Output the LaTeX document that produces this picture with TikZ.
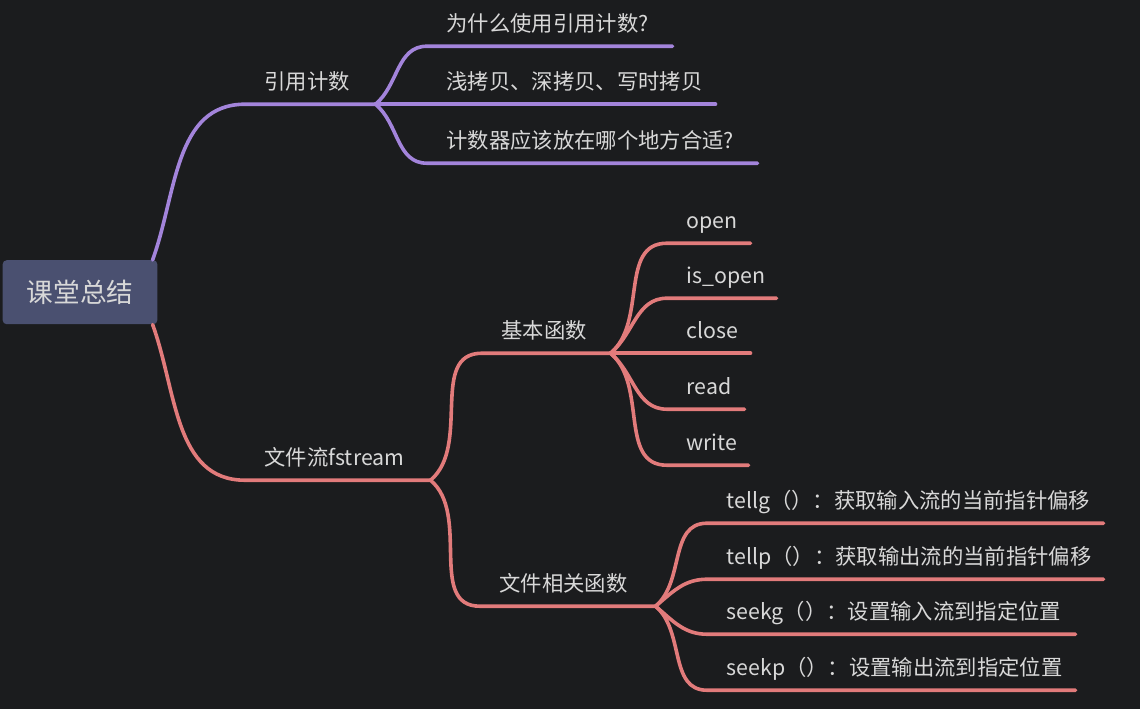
\documentclass[tikz,border=0pt]{standalone}
\usepackage{fontspec}
\setmainfont{Noto Sans CJK SC}
\usepackage{tikz}
\definecolor{bgdark}{RGB}{27,28,30}
\definecolor{rootfill}{RGB}{74,80,112}
\definecolor{txtgray}{RGB}{216,216,216}
\definecolor{purp}{RGB}{163,132,219}
\definecolor{salmon}{RGB}{226,123,123}

\begin{document}
\begin{tikzpicture}[x=0.75pt,y=-0.75pt]
\tikzstyle{root}=[rectangle,rounded corners=3pt,fill=rootfill,text=txtgray,minimum width=116pt,minimum height=48pt,font=\fontsize{20}{24}\selectfont]
\tikzstyle{topic}=[anchor=south west,inner xsep=0pt,inner ysep=10.5pt,text depth=0pt,align=left,text=txtgray,font=\fontsize{16}{19}\selectfont,execute at begin node=\hspace*{14.5pt}]
\tikzstyle{pline}=[draw=purp,line width=2.7pt,line cap=round]
\tikzstyle{rline}=[draw=salmon,line width=2.7pt,line cap=round]
\fill[bgdark] (0,0) rectangle (1140,709);
\node[root] (sum) at (80,292) {课堂总结};
\node[topic,text width=97.5pt] (cnt) at (245,104) {引用计数};
\node[topic,text width=138.75pt] (fs) at (245,480) {文件流fstream};
\node[topic,text width=183.75pt] (why) at (427,46) {为什么使用引用计数?};
\node[topic,text width=216pt] (copy) at (427,104) {浅拷贝、深拷贝、写时拷贝};
\node[topic,text width=247.5pt] (where) at (427,163) {计数器应该放在哪个地方合适?};
\node[topic,text width=96pt] (basic) at (482,353) {基本函数};
\node[topic,text width=131.25pt] (rel) at (480,606) {文件相关函数};
\node[topic,text width=62.25pt] (open) at (667,243) {open};
\node[topic,text width=81.75pt] (isopen) at (667,298) {is\_open};
\node[topic,text width=62.25pt] (close) at (667,353) {close};
\node[topic,text width=57.75pt] (read) at (667,409) {read};
\node[topic,text width=60.75pt] (write) at (667,465) {write};
\node[topic,text width=297pt] (tellg) at (707,523) {tellg（）：获取输入流的当前指针偏移};
\node[topic,text width=297pt] (tellp) at (707,579) {tellp（）：获取输出流的当前指针偏移};
\node[topic,text width=276pt] (seekg) at (707,634) {seekg（）：设置输入流到指定位置};
\node[topic,text width=276pt] (seekp) at (707,690) {seekp（）：设置输出流到指定位置};
% reference counting branch
\draw[pline] (sum.north east) ++(-5,0) to[out=70,in=180] (cnt.south west) -- (cnt.south east);
\draw[pline] (cnt.south east) to[out=40,in=180] (why.south west) -- (why.south east);
\draw[pline] (cnt.south east) -- (copy.south west) -- (copy.south east);
\draw[pline] (cnt.south east) to[out=-40,in=180] (where.south west) -- (where.south east);
% fstream branch
\draw[rline] (sum.south east) ++(-5,0) to[out=-70,in=180] (fs.south west) -- (fs.south east);
\draw[rline] (fs.south east) to[out=40,in=180] (basic.south west) -- (basic.south east);
\draw[rline] (fs.south east) to[out=-40,in=180] (rel.south west) -- (rel.south east);
\draw[rline] (basic.south east) to[out=40,in=180] (open.south west) -- (open.south east);
\draw[rline] (basic.south east) to[out=40,in=180] (isopen.south west) -- (isopen.south east);
\draw[rline] (basic.south east) -- (close.south west) -- (close.south east);
\draw[rline] (basic.south east) to[out=-40,in=180] (read.south west) -- (read.south east);
\draw[rline] (basic.south east) to[out=-40,in=180] (write.south west) -- (write.south east);
\draw[rline] (rel.south east) to[out=40,in=180] (tellg.south west) -- (tellg.south east);
\draw[rline] (rel.south east) to[out=40,in=180] (tellp.south west) -- (tellp.south east);
\draw[rline] (rel.south east) to[out=-40,in=180] (seekg.south west) -- (seekg.south east);
\draw[rline] (rel.south east) to[out=-40,in=180] (seekp.south west) -- (seekp.south east);
\end{tikzpicture}
\end{document}
